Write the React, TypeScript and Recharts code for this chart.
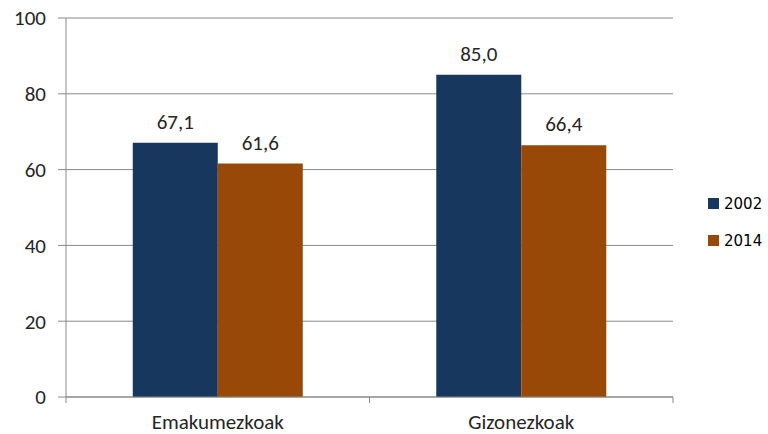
import { BarChart, Bar, XAxis, YAxis, CartesianGrid, LabelList } from 'recharts'

// Data
const categories = ['Emakumezkoak', 'Gizonezkoak']
const values2002 = [67.1, 85.0]
const values2014 = [61.6, 66.4]
const yTicks = [0, 20, 40, 60, 80, 100]

const series = [
  { key: 'y2002', name: '2002', color: '#17375E' },
  { key: 'y2014', name: '2014', color: '#984807' },
]

const data = categories.map((name, i) => ({
  name,
  y2002: values2002[i],
  y2014: values2014[i],
}))

const W = 768
const H = 434
const M = { top: 18, right: 95, bottom: 0, left: 0 }
const Y_W = 66
const HALF_BAND = (W - M.right - Y_W) / categories.length / 2

const fmt = (v: number) => v.toFixed(1).replace('.', ',')

const font = 'Carlito, Calibri, "Open Sans", sans-serif'
const textColor = '#262626'
const axisColor = '#898989'

// category label plus Excel-style tick marks between categories
function CatTick(props: any) {
  const { x, y, payload } = props
  return (
    <g>
      <line x1={x - HALF_BAND} x2={x - HALF_BAND} y1={y} y2={y + 6} stroke={axisColor} />
      <line x1={x + HALF_BAND} x2={x + HALF_BAND} y1={y} y2={y + 6} stroke={axisColor} />
      <text x={x} y={y + 32} textAnchor="middle" fill={textColor} fontSize={21} fontFamily={font}>
        {payload.value}
      </text>
    </g>
  )
}

export default function App() {
  return (
    <div style={{ position: 'absolute', left: 0, top: 0, width: W, height: H, background: '#fff' }}>
      <BarChart width={W} height={H} data={data} margin={M} barCategoryGap="22%" barGap={0}>
        <CartesianGrid vertical={false} stroke={axisColor} />
        <XAxis
          dataKey="name"
          height={37}
          axisLine={{ stroke: axisColor }}
          tickLine={false}
          tickSize={0}
          tickMargin={0}
          tick={<CatTick />}
        />
        <YAxis
          width={Y_W}
          domain={[0, 100]}
          ticks={yTicks}
          interval={0}
          axisLine={{ stroke: axisColor }}
          tickLine={{ stroke: axisColor }}
          tickSize={8}
          tickMargin={12}
          tick={{ fill: textColor, fontSize: 21, fontFamily: font }}
        />
        {series.map((s) => (
          <Bar key={s.key} dataKey={s.key} name={s.name} fill={s.color} isAnimationActive={false}>
            <LabelList
              dataKey={s.key}
              position="top"
              offset={14}
              formatter={(v: any) => fmt(Number(v))}
              style={{ fill: textColor, fontSize: 21, fontFamily: font }}
            />
          </Bar>
        ))}
      </BarChart>
      <div
        style={{
          position: 'absolute',
          left: 708,
          top: 185,
          fontFamily: '"DejaVu Sans", Tahoma, sans-serif',
          fontSize: 15,
          color: '#000',
        }}
      >
        {series.map((s) => (
          <div key={s.key} style={{ display: 'flex', alignItems: 'center', height: 37 }}>
            <span style={{ width: 11, height: 11, background: s.color, marginRight: 5 }} />
            {s.name}
          </div>
        ))}
      </div>
    </div>
  )
}
